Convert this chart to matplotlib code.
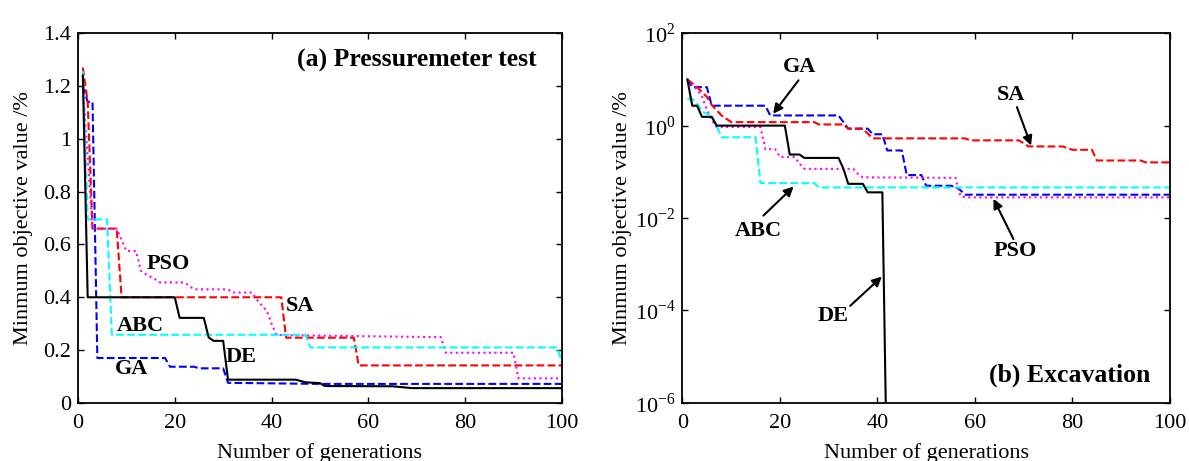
import matplotlib
matplotlib.use("Agg")
import matplotlib.pyplot as plt
import numpy as np

plt.rcParams['font.family'] = ['Liberation Serif', 'DejaVu Serif']
plt.rcParams['mathtext.fontset'] = 'custom'
plt.rcParams['mathtext.rm'] = 'Liberation Serif'
plt.rcParams['font.size'] = 16

# (a) pressuremeter test: step points (generation, min objective value %)
ga_a_gen = [1, 2, 3, 4, 18, 19, 24, 25, 30, 31, 50, 100]
ga_a_val = [1.2, 1.14, 1.14, 0.17, 0.17, 0.137, 0.137, 0.131, 0.131, 0.076, 0.072, 0.072]
sa_a_gen = [1, 2, 3, 8, 9, 42, 43, 57, 58, 100]
sa_a_val = [1.27, 1.14, 0.66, 0.66, 0.40, 0.40, 0.247, 0.247, 0.142, 0.142]
pso_a_gen = [1, 3, 8, 10, 12, 13, 14, 16, 17, 22, 24, 31, 32, 36, 37, 39, 40, 41, 75, 76, 90, 91, 100]
pso_a_val = [1.2, 0.66, 0.66, 0.575, 0.575, 0.50, 0.487, 0.468, 0.456, 0.456, 0.43, 0.43, 0.418, 0.418,
             0.39, 0.349, 0.30, 0.257, 0.249, 0.19, 0.19, 0.093, 0.093]
abc_a_gen = [1, 2, 6, 7, 47, 48, 99, 100]
abc_a_val = [1.255, 0.695, 0.695, 0.258, 0.258, 0.21, 0.21, 0.155]
de_a_gen = [1, 2, 20, 21, 26, 27, 28, 30, 31, 45, 47, 50, 51, 65, 69, 100]
de_a_val = [1.24, 0.40, 0.40, 0.322, 0.322, 0.248, 0.235, 0.235, 0.088, 0.088, 0.078, 0.075, 0.064,
            0.063, 0.056, 0.056]

# (b) excavation
ga_b_gen = [1, 2, 5, 6, 17, 18, 32, 33, 34, 38, 39, 41, 42, 45, 46, 49, 50, 55, 56, 57, 58, 100]
ga_b_val = [10, 6.8, 6.8, 2.7, 2.7, 1.66, 1.66, 1.2, 0.86, 0.86, 0.65, 0.65, 0.29, 0.29, 0.085, 0.085,
            0.05, 0.05, 0.047, 0.04, 0.032, 0.032]
sa_b_gen = [1, 3, 5, 6, 8, 10, 27, 28, 33, 34, 37, 39, 58, 59, 69, 71, 78, 80, 84, 85, 94, 95, 100]
sa_b_val = [10, 6.8, 4.2, 2.8, 1.66, 1.19, 1.19, 1.06, 1.06, 0.86, 0.86, 0.53, 0.53, 0.48, 0.48, 0.354,
            0.354, 0.30, 0.30, 0.176, 0.176, 0.16, 0.16]
pso_b_gen = [1, 3, 4, 5, 6, 7, 16, 17, 19, 20, 23, 24, 25, 35, 36, 37, 56, 57, 58, 100]
pso_b_val = [10, 6.0, 4.3, 2.2, 1.3, 0.93, 0.93, 0.31, 0.31, 0.21, 0.21, 0.15, 0.116, 0.116, 0.09,
             0.076, 0.074, 0.03, 0.028, 0.028]
abc_b_gen = [1, 2, 3, 4, 6, 7, 8, 15, 16, 27, 28, 100]
abc_b_val = [3.8, 3.8, 3.0, 2.0, 1.66, 1.0, 0.56, 0.56, 0.057, 0.057, 0.046, 0.046]
de_b_gen = [1, 2, 3, 4, 6, 7, 21, 22, 24, 25, 32, 33, 34, 37, 38, 41, 42, 100]
de_b_val = [10, 2.7, 2.7, 1.55, 1.55, 1.0, 1.0, 0.237, 0.237, 0.2, 0.2, 0.118, 0.055, 0.055, 0.036,
            0.036, 1e-8, 1e-8]

fig = plt.figure(figsize=(11.89, 4.61), dpi=100)
ax1 = fig.add_axes([0.0656, 0.126, 0.407, 0.802])
ax2 = fig.add_axes([0.574, 0.126, 0.41, 0.802])

def style_axes(ax, ylpad):
    ax.tick_params(direction='in', top=True, right=True, length=4, width=1, labelsize=16)
    ax.tick_params(axis='x', pad=8)
    ax.tick_params(axis='y', pad=5)
    for s in ax.spines.values():
        s.set_linewidth(1.3)
    ax.set_xlim(0, 100)
    ax.set_xticks([0, 20, 40, 60, 80, 100])
    ax.set_xlabel('Number of generations', labelpad=7)
    ax.set_ylabel('Minmum objective value /%', labelpad=ylpad)

lw = 1.5
cyan = '#00ffff'
ax1.plot(ga_a_gen, ga_a_val, '--', color='#0000ff', lw=lw)
ax1.plot(sa_a_gen, sa_a_val, '--', color='#ff0000', lw=lw)
ax1.plot(pso_a_gen, pso_a_val, ':', color='#ff00ff', lw=lw)
ax1.plot(abc_a_gen, abc_a_val, '--', color=cyan, lw=lw)
ax1.plot(de_a_gen, de_a_val, '-', color='k', lw=lw)
style_axes(ax1, 7)
ax1.set_ylim(0, 1.4)
yt = [0, 0.2, 0.4, 0.6, 0.8, 1.0, 1.2, 1.4]
ax1.set_yticks(yt)
ax1.set_yticklabels(['%g' % v for v in yt])

ax1.text(0.948, 0.927, '(a) Pressuremeter test', transform=ax1.transAxes, ha='right', va='center',
         fontweight='bold', fontsize=18.5)
ax1.text(18.7, 0.525, 'PSO', ha='center', va='center', fontweight='bold')
ax1.text(45.9, 0.367, 'SA', ha='center', va='center', fontweight='bold')
ax1.text(12.8, 0.292, 'ABC', ha='center', va='center', fontweight='bold')
ax1.text(33.8, 0.173, 'DE', ha='center', va='center', fontweight='bold')
ax1.text(11.1, 0.128, 'GA', ha='center', va='center', fontweight='bold')

ax2.semilogy(ga_b_gen, ga_b_val, '--', color='#0000ff', lw=lw)
ax2.semilogy(sa_b_gen, sa_b_val, '--', color='#ff0000', lw=lw)
ax2.semilogy(pso_b_gen, pso_b_val, ':', color='#ff00ff', lw=lw)
ax2.semilogy(abc_b_gen, abc_b_val, '--', color=cyan, lw=lw)
ax2.semilogy(de_b_gen, de_b_val, '-', color='k', lw=lw)
style_axes(ax2, 2)
ax2.set_ylim(1e-6, 1e2)
ax2.minorticks_off()
ax2.set_yticks([1e-6, 1e-4, 1e-2, 1e0, 1e2])
ax2.set_yticklabels([r'$10^{-6}$', r'$10^{-4}$', r'$10^{-2}$', r'$10^{0}$', r'$10^{2}$'])
ax2.tick_params(axis='y', which='minor', length=0)

ax2.text(0.959, 0.076, '(b) Excavation', transform=ax2.transAxes, ha='right', va='center',
         fontweight='bold', fontsize=18.5)

arrow = dict(arrowstyle='-|>', color='k', lw=1.5, mutation_scale=14, shrinkA=0, shrinkB=0)
labels_b = [
    ('GA', (24.1, 18.3), (23.8, 9.55), (18.6, 1.81)),
    ('SA', (67.5, 4.52), (68.6, 2.52), (71.5, 0.37)),
    ('ABC', (15.6, 5.3e-3), (16.6, 1.13e-2), (22.8, 0.048)),
    ('PSO', (68.3, 1.96e-3), (67.9, 3.5e-3), (63.8, 0.026)),
    ('DE', (31.0, 7.6e-5), (34.4, 1.26e-4), (40.9, 5.4e-4)),
]
for name, txt, tail, head in labels_b:
    ax2.text(txt[0], txt[1], name, ha='center', va='center', fontweight='bold')
    ax2.annotate('', xy=head, xytext=tail, arrowprops=arrow)

fig.savefig('out.png', dpi=100)
